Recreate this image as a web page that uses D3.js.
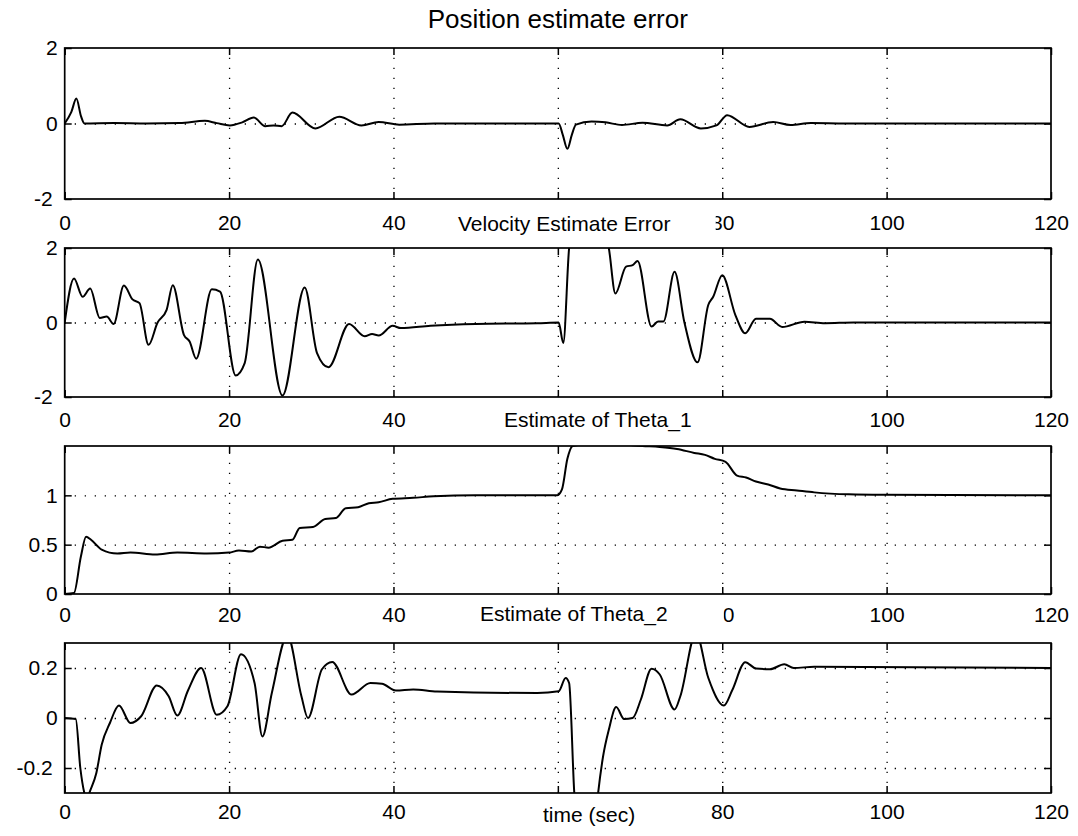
<!DOCTYPE html>
<html><head><meta charset="utf-8">
<script src="https://cdn.jsdelivr.net/npm/d3@7"></script>
<style>body{margin:0;background:#fff}</style>
</head><body>
<script>
// ---------- data ----------
const xTicks = [0, 20, 40, 60, 80, 100, 120];
const panelTitles = ["Position estimate error", "Velocity Estimate Error", "Estimate of Theta_1", "Estimate of Theta_2"];
const xLabel = "time (sec)";

const posT = [0,0.8,1.42,2.0,2.4,6,10,14,17.05,18.5,20.1,21.6,23.0,24.4,25.4,26.4,27.7,30.5,33.4,36.1,38.2,40.7,45,50,55,60.1,60.6,61.16,61.7,62.2,64.1,65.8,67.8,70.3,73.3,74.9,77.4,79.3,80.6,83.3,86.2,88.3,90.8,95,100,110,120];
const posV = [0,0.3,0.66,0.18,0,0.01,0,0.01,0.07,0.01,-0.05,0.03,0.16,-0.07,-0.05,-0.07,0.29,-0.13,0.18,-0.05,0.04,-0.03,0,0,0,0,-0.3,-0.67,-0.3,-0.03,0.05,0.03,-0.04,0.02,-0.05,0.11,-0.13,-0.05,0.22,-0.09,0.04,-0.04,0.01,0,0,0,0];

const velT = [0,1.13,2.18,3.1,4.27,5.11,5.95,7.2,8.25,9.1,10.2,11.3,12.4,13.15,14.5,15.2,16.0,17.9,18.9,20.8,21.9,23.5,26.5,29.2,30.7,32.1,34.6,36.5,37.4,38.2,39.9,40.9,44.5,50,57.5,60.1,60.66,61.37,62.5,64,65.3,66.2,67.0,68.3,69.1,69.7,71.4,72.2,72.85,74.2,75.4,77.0,78.3,78.9,80.0,81.6,82.8,84.1,85.8,87.3,90.0,92.5,96,120];
const velV = [0,1.18,0.69,0.91,0.12,0.16,-0.04,0.99,0.62,0.52,-0.6,0,0.34,1.0,-0.33,-0.51,-0.97,0.89,0.83,-1.42,-1.09,1.69,-1.96,0.94,-0.82,-1.2,-0.04,-0.37,-0.31,-0.35,-0.09,-0.15,-0.09,-0.04,-0.02,0,-0.55,2.0,3.3,3.5,2.7,2.0,0.78,1.5,1.54,1.65,-0.11,0.03,0.03,1.36,0,-1.07,0.47,0.69,1.27,0.2,-0.29,0.1,0.1,-0.12,0.02,-0.02,0,0];

const th1T = [0,1.13,1.97,2.6,3.2,4.5,6.4,8,11,13.7,17.3,20,21.2,22.7,23.75,24.8,26.5,27.7,28.6,30.2,31.7,33,34.2,35.7,37,38.2,39.9,42.4,44.9,50,59.9,60.5,61.16,61.8,64,67,70.3,72.4,74.5,76.6,77.9,79.1,80.4,81.8,82.9,84.1,85.6,87.05,89.1,91.2,95.4,99.6,120];
const th1V = [0,0.01,0.38,0.58,0.55,0.45,0.41,0.42,0.40,0.42,0.41,0.42,0.44,0.43,0.48,0.47,0.54,0.55,0.67,0.68,0.76,0.77,0.87,0.88,0.92,0.93,0.965,0.975,0.99,1.0,1.0,1.06,1.37,1.5,1.52,1.52,1.5,1.49,1.47,1.43,1.41,1.37,1.34,1.2,1.18,1.14,1.11,1.07,1.05,1.03,1.01,1.005,1.0];

const th2T = [0,1.34,1.9,2.39,2.7,3.0,3.85,4.5,5.5,6.6,8.0,9.3,11.2,12.65,13.7,15.0,16.6,18.5,19.8,21.45,23.1,24.05,25.2,27.1,28.8,29.6,31.3,32.55,34.9,37.2,38.6,40.3,42.4,45.3,57.5,60.1,60.95,61.37,62.0,62.7,63.5,64.3,64.9,65.5,66.2,67.1,68.05,69.1,70.1,71.4,72.4,74.2,74.9,76.8,78.3,80.2,81.2,82.8,84.1,85.8,87.55,88.7,91.2,120];
const th2V = [0,-0.004,-0.2,-0.3,-0.33,-0.3,-0.22,-0.107,-0.02,0.05,-0.02,0.007,0.13,0.087,0.01,0.11,0.2,0.013,0.047,0.255,0.14,-0.074,0.1,0.33,0.087,0,0.195,0.224,0.094,0.14,0.137,0.11,0.114,0.106,0.1,0.107,0.16,0.14,-0.3,-0.5,-0.58,-0.5,-0.3,-0.154,-0.047,0.044,-0.004,0,0.074,0.197,0.174,0.034,0.087,0.34,0.161,0.05,0.11,0.223,0.198,0.195,0.215,0.2,0.205,0.2];

const yDomains = [[-2, 2], [-2, 2], [0, 1.5], [-0.3, 0.3]];
const yTickVals = [[-2, 0, 2], [-2, 0, 2], [0, 0.5, 1], [-0.2, 0, 0.2]];
const yTickText = [["-2", "0", "2"], ["-2", "0", "2"], ["0", "0.5", "1"], ["-0.2", "0", "0.2"]];
const seriesT = [posT, velT, th1T, th2T];
const seriesV = [posV, velV, th1V, th2V];

// ---------- layout ----------
const W = 1078, H = 836;
const left = 64.7, right = 1051;
const tops = [48, 248, 446, 643];
const bottoms = [199, 397, 594, 793];
const labelGap = [31, 30, 28, 26];
const FONT = "'Liberation Sans', Arial, Helvetica, sans-serif";

const svg = d3.select("body").append("svg")
  .attr("width", W).attr("height", H)
  .style("font-family", FONT);

const x = d3.scaleLinear().domain([0, 120]).range([left, right]);
const bottomAxes = [];

seriesT.forEach((T, i) => {
  const y = d3.scaleLinear().domain(yDomains[i]).range([bottoms[i], tops[i]]);
  const h = bottoms[i] - tops[i];
  const g = svg.append("g");

  // dotted grid
  const gx = g.append("g").attr("transform", `translate(0,${bottoms[i]})`)
    .call(d3.axisBottom(x).tickValues(xTicks.filter(t => t > 0 && t < 120)).tickSize(-h).tickFormat(""));
  gx.select(".domain").remove();
  gx.selectAll("line").attr("stroke", "#000").attr("stroke-width", 1.3).attr("stroke-dasharray", "1.3,8.7");
  const gy = g.append("g").attr("transform", `translate(${left},0)`)
    .call(d3.axisLeft(y).tickValues(yTickVals[i].filter(v => v > yDomains[i][0] && v < yDomains[i][1])).tickSize(-(right - left)).tickFormat(""));
  gy.select(".domain").remove();
  gy.selectAll("line").attr("stroke", "#000").attr("stroke-width", 1.3).attr("stroke-dasharray", "1.3,8.7");

  // clip to the axes box
  const cid = "clip" + i;
  svg.append("clipPath").attr("id", cid).append("rect")
    .attr("x", left).attr("y", tops[i]).attr("width", right - left).attr("height", h);

  // data line
  const data = T.map((t, k) => [t, seriesV[i][k]]);
  g.append("path").datum(data)
    .attr("clip-path", `url(#${cid})`)
    .attr("fill", "none").attr("stroke", "#000").attr("stroke-width", 2)
    .attr("stroke-linejoin", "round")
    .attr("d", d3.line().x(d => x(d[0])).y(d => y(d[1])).curve(d3.curveMonotoneX));

  // axes with inward ticks
  const ab = g.append("g").attr("transform", `translate(0,${bottoms[i]})`)
    .call(d3.axisBottom(x).tickValues(xTicks).tickSize(-7).tickSizeOuter(0));
  const at = g.append("g").attr("transform", `translate(0,${tops[i]})`)
    .call(d3.axisTop(x).tickValues(xTicks).tickSize(-7).tickSizeOuter(0).tickFormat(""));
  const al = g.append("g").attr("transform", `translate(${left},0)`)
    .call(d3.axisLeft(y).tickValues(yTickVals[i]).tickSize(-7).tickSizeOuter(0).tickPadding(7)
      .tickFormat((d, k) => yTickText[i][k]));
  const ar = g.append("g").attr("transform", `translate(${right},0)`)
    .call(d3.axisRight(y).tickValues(yTickVals[i]).tickSize(-7).tickSizeOuter(0).tickFormat(""));
  [ab, at, al, ar].forEach(a => {
    a.select(".domain").remove();
    a.selectAll("line").attr("stroke", "#000").attr("stroke-width", 1.5);
    a.selectAll("text").attr("fill", "#000").style("font-size", "21px").style("font-family", FONT);
  });
  ab.selectAll("text").attr("dy", null).attr("y", labelGap[i]);
  al.selectAll("text").attr("dx", d => d < 0 ? -5 : 0);
  bottomAxes.push(ab);

  // frame
  g.append("rect").attr("x", left).attr("y", tops[i]).attr("width", right - left).attr("height", h)
    .attr("fill", "none").attr("stroke", "#000").attr("stroke-width", 1.7);
});

// main title
svg.append("text").attr("x", (left + right) / 2).attr("y", 28).attr("text-anchor", "middle")
  .attr("fill", "#000").style("font-size", "26px").text(panelTitles[0]);

// lower titles sit on the tick-label row above them and mask what lies beneath
function title(text, x0, base, size, coverR, axisG, idx) {
  svg.append("text").attr("x", x0).attr("y", base).attr("fill", "#000")
    .style("font-size", size + "px").text(text);
  if (!axisG) return;
  const cx0 = x0 - 6;
  axisG.selectAll(".tick text").each(function(d) {
    const b = this.getBBox();
    const gx = x(d) + b.x, gx1 = gx + b.width;
    if (gx1 <= cx0 || gx >= coverR) return;          // untouched
    if (gx >= cx0 && gx1 <= coverR) { d3.select(this).remove(); return; }  // fully hidden
    // partly hidden: keep only the part right of the mask
    const id = "mask" + idx + "_" + d;
    svg.append("clipPath").attr("id", id).append("rect")
      .attr("x", coverR - x(d)).attr("y", -50).attr("width", 100).attr("height", 100);
    d3.select(this).attr("clip-path", `url(#${id})`);
  });
}
title(panelTitles[1], 458, 231, 21, x(80) - 7, bottomAxes[0], 0);
title(panelTitles[2], 504, 427, 21, x(80) + 16, bottomAxes[1], 1);
title(panelTitles[3], 480, 621, 21, x(80) + 1, bottomAxes[2], 2);
title(xLabel, 543, 822, 21, x(60) + 16, bottomAxes[3], 3);
</script>
</body></html>
